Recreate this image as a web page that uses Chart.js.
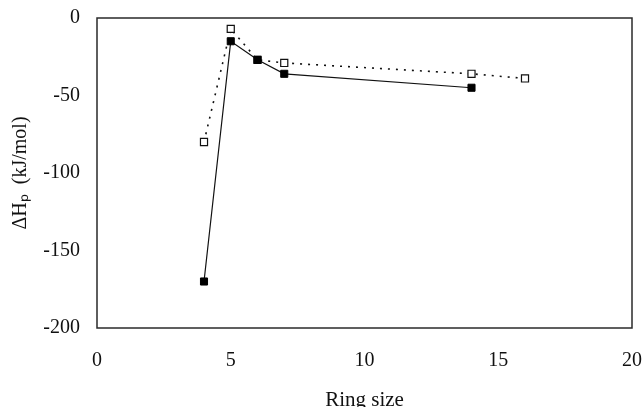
<!DOCTYPE html>
<html>
<head>
<meta charset="utf-8">
<script src="https://cdn.jsdelivr.net/npm/chart.js@4/dist/chart.umd.min.js"></script>
<style>
html,body{margin:0;padding:0;background:#fff;}
#wrap{width:644px;height:407px;}
</style>
</head>
<body>
<div id="wrap"><canvas id="c" width="644" height="407"></canvas></div>
<script>
// Data
const ringSizeFilled = [4, 5, 6, 7, 14];
const dHpFilled = [-170, -15, -27, -36, -45];
const ringSizeOpen = [4, 5, 6, 7, 14, 16];
const dHpOpen = [-80, -7, -27, -29, -36, -39];
const xTicks = [0, 5, 10, 15, 20];
const yTicks = [0, -50, -100, -150, -200];

const toXY = (xs, ys) => xs.map((x, i) => ({x: x, y: ys[i]}));

const frame = {
  id: 'frame',
  afterDatasetsDraw(chart) {
    const a = chart.chartArea, ctx = chart.ctx;
    ctx.save();
    ctx.strokeStyle = '#2a2a2a';
    ctx.lineWidth = 1.5;
    ctx.strokeRect(a.left, a.top, a.right - a.left, a.bottom - a.top);
    ctx.restore();
  }
};

const serif = "'Liberation Serif','Times New Roman',serif";

new Chart(document.getElementById('c'), {
  type: 'scatter',
  data: {
    datasets: [
      {
        label: 'open',
        data: toXY(ringSizeOpen, dHpOpen),
        showLine: true,
        borderColor: '#111',
        borderWidth: 1.6,
        borderDash: [2, 6],
        pointStyle: 'rect',
        pointRadius: 5,
        pointBackgroundColor: '#fff',
        pointBorderColor: '#111',
        pointBorderWidth: 1.2,
        order: 2
      },
      {
        label: 'filled',
        data: toXY(ringSizeFilled, dHpFilled),
        showLine: true,
        borderColor: '#111',
        borderWidth: 1.2,
        pointStyle: 'rect',
        pointRadius: 5,
        pointBackgroundColor: '#000',
        pointBorderColor: '#000',
        pointBorderWidth: 1,
        order: 1
      }
    ]
  },
  options: {
    responsive: false,
    animation: false,
    devicePixelRatio: 1,
    layout: {padding: {left: 0, right: 12, top: 18, bottom: 0}},
    plugins: {legend: {display: false}, tooltip: {enabled: false}},
    scales: {
      x: {
        type: 'linear',
        min: 0, max: 20,
        afterBuildTicks: s => { s.ticks = xTicks.map(v => ({value: v})); },
        grid: {display: false, drawTicks: false},
        border: {display: false},
        ticks: {color: '#111', font: {family: serif, size: 20}, padding: 21},
        title: {display: true, text: 'Ring size', color: '#111', font: {family: serif, size: 21}, padding: {top: 0, bottom: -6}},
        afterFit: s => { s.height = 79; s.paddingLeft = 0; s.paddingRight = 0; }
      },
      y: {
        type: 'linear',
        min: -200, max: 0,
        afterBuildTicks: s => { s.ticks = yTicks.map(v => ({value: v})); },
        grid: {display: false, drawTicks: false},
        border: {display: false},
        ticks: {color: '#111', font: {family: serif, size: 20}, padding: 17},
        title: {display: true, text: 'ΔHₚ  (kJ/mol)', color: '#111', font: {family: serif, size: 20}, padding: {top: 9, bottom: 0}},
        afterFit: s => { s.width = 97; s.paddingTop = 0; s.paddingBottom = 0; }
      }
    }
  },
  plugins: [frame]
});
</script>
</body>
</html>
